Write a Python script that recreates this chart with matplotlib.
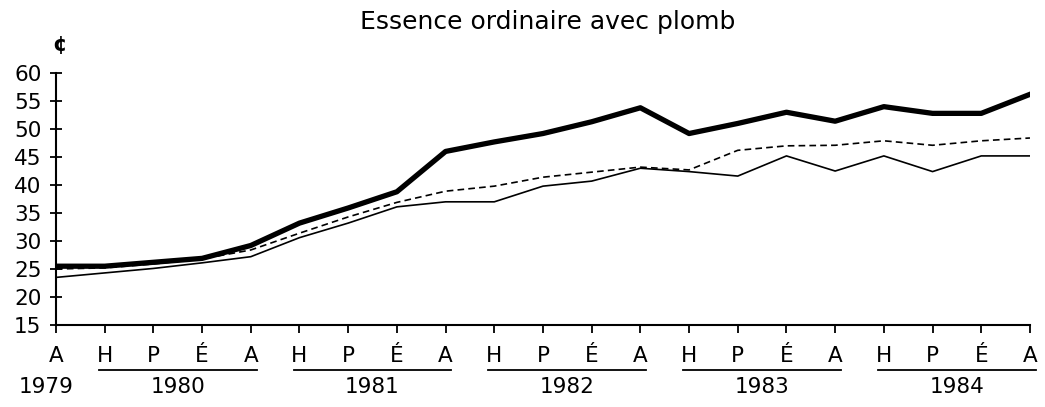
import matplotlib.pyplot as plt
import matplotlib.transforms as mtransforms
import numpy as np

# ── Data (cents per litre, quarterly Aut 1979 -> Aut 1984) ─────────────────
quarters = ['A', 'H', 'P', 'É', 'A', 'H', 'P', 'É', 'A', 'H', 'P',
            'É', 'A', 'H', 'P', 'É', 'A', 'H', 'P', 'É', 'A']

thick_vals = [25.5, 25.5, 26.2, 26.9, 29.2, 33.2, 35.9, 38.8, 46.0, 47.7, 49.2,
              51.3, 53.8, 49.2, 51.0, 53.0, 51.4, 54.0, 52.8, 52.8, 56.2]
dashed_vals = [25.0, 25.2, 25.9, 26.8, 28.4, 31.4, 34.3, 36.9, 38.9, 39.8, 41.4,
               42.3, 43.2, 42.7, 46.2, 47.0, 47.1, 47.9, 47.1, 47.9, 48.4]
thin_vals = [23.5, 24.3, 25.1, 26.1, 27.2, 30.6, 33.2, 36.1, 37.0, 37.0, 39.8,
             40.7, 43.0, 42.4, 41.6, 45.2, 42.5, 45.2, 42.4, 45.2, 45.2]

year_labels = ['1980', '1981', '1982', '1983', '1984']
year_spans = [(1, 4), (5, 8), (9, 12), (13, 16), (17, 20)]

x = np.arange(len(quarters))

# ── Figure ──────────────────────────────────────────────────────────────────
fig = plt.figure(figsize=(10.45, 4.07), dpi=100)
ax = fig.add_axes([0.0536, 0.2015, 0.932, 0.619])

ax.plot(x, thick_vals, color='black', lw=3.8, solid_joinstyle='round')
ax.plot(x, dashed_vals, color='black', lw=1.2, dashes=(4, 2.5))
ax.plot(x, thin_vals, color='black', lw=1.2)

ax.set_xlim(0, len(quarters) - 1)
ax.set_ylim(15, 60)

for side in ['top', 'right']:
    ax.spines[side].set_visible(False)
ax.spines['left'].set_linewidth(1.5)
ax.spines['bottom'].set_linewidth(1.5)

ax.set_yticks(np.arange(15, 61, 5))
ax.tick_params(axis='y', direction='inout', length=9, width=1.3,
               labelsize=15.5, pad=6)
ax.set_xticks(x)
ax.set_xticklabels(quarters)
ax.tick_params(axis='x', direction='out', length=6, width=1.3,
               labelsize=15.5, pad=9)

# ── Year labels with underlines ─────────────────────────────────────────────
trans = mtransforms.blended_transform_factory(ax.transData, fig.transFigure)
ax.text(-0.2, 0.05, '1979', transform=trans, ha='center', va='center',
        fontsize=15.5)
for label, (start, end) in zip(year_labels, year_spans):
    ax.plot([start - 0.12, end + 0.12], [0.092, 0.092], transform=trans,
            color='black', lw=1.3, clip_on=False)
    ax.text((start + end) / 2, 0.05, label, transform=trans,
            ha='center', va='center', fontsize=15.5)

# ── Titles ──────────────────────────────────────────────────────────────────
fig.text(0.524, 0.945, 'Essence ordinaire avec plomb', ha='center',
         va='center', fontsize=18)
fig.text(0.057, 0.89, '¢', ha='center', va='center', fontsize=15,
         fontweight='bold')

plt.savefig('out.png', dpi=100)
